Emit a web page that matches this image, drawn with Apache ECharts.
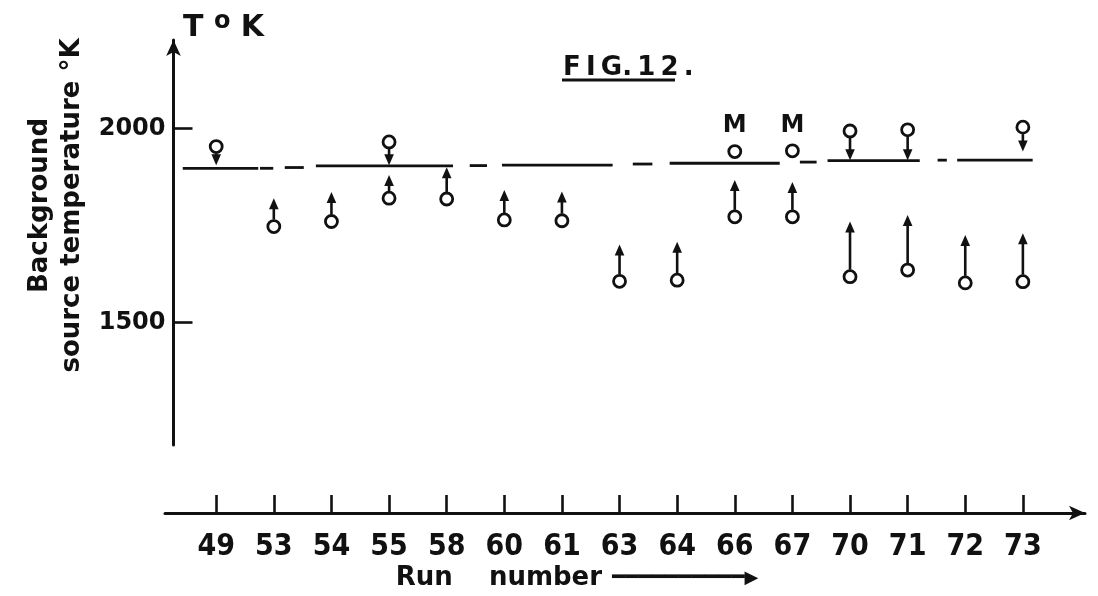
<!DOCTYPE html>
<html>
<head>
<meta charset="utf-8">
<script src="https://cdn.jsdelivr.net/npm/echarts@6/dist/echarts.min.js"></script>
<style>
html,body{margin:0;padding:0;background:#fff;}
#chart{width:1098px;height:596px;}
</style>
</head>
<body>
<div id="chart"></div>
<script>
// ---------------- data ----------------
const categories = ['49','53','54','55','58','60','61','63','64','66','67','70','71','72','73'];
const yTickValues = [1500, 2000];
// upper limits: [run, circle value, arrow tip value]
const upperLimits = [
  ['49', 1953, 1905], ['55', 1965, 1905], ['70', 1993, 1918], ['71', 1996, 1918], ['73', 2003, 1940]
];
// lower limits: [run, circle value, arrow tip value]
const lowerLimits = [
  ['53', 1747, 1820], ['54', 1760, 1836], ['55', 1820, 1880], ['58', 1818, 1900],
  ['60', 1764, 1841], ['61', 1762, 1837], ['63', 1606, 1701], ['64', 1609, 1708],
  ['66', 1772, 1867], ['67', 1772, 1862], ['70', 1618, 1760], ['71', 1635, 1777],
  ['72', 1602, 1725], ['73', 1605, 1730]
];
// measured points marked "M": [run, value]
const mPoints = [['66', 1940], ['67', 1942]];
const mLabel = 'M';
// broken reference line (positions in run-index units)
const refLineStart = [-0.58, 0.76, 1.19, 1.73, 4.40, 4.96, 7.23, 7.87, 10.13, 10.61, 12.52, 12.86];
const refLineEnd   = [ 0.73, 0.99, 1.52, 4.11, 4.70, 6.88, 7.57, 9.78, 10.42, 12.21, 12.68, 14.17];
const refLineValue = [1897, 1897, 1899, 1903, 1904, 1905, 1908, 1910, 1913, 1917, 1918, 1918];

// ---------------- layout ----------------
const X0 = 216.2, XS = 57.62;          // pixel of first run, pixels per run
const Y2000 = 128.3, PXU = 0.3884;     // pixel of 2000 K, pixels per K
const G0 = {left: 173.5, top: 40, right: 1085, bottom: 445};
const G1 = {left: 165, top: 512, right: 1085};
const xmin0 = (G0.left - X0) / XS, xmax0 = (G0.right - X0) / XS;
const xmin1 = (G1.left - X0) / XS, xmax1 = (G1.right - X0) / XS;
const ymin0 = 2000 - (G0.bottom - Y2000) / PXU;
const ymax0 = 2000 + (Y2000 - G0.top) / PXU;

const idx = r => categories.indexOf(r);
const FONT = 'DejaVu Sans';
const NARROW = "'Liberation Sans Narrow', 'DejaVu Sans Condensed', 'DejaVu Sans', sans-serif";
const INK = '#111';

const upData = upperLimits.map(d => [idx(d[0]), d[1], d[2]]);
const lowData = lowerLimits.map(d => [idx(d[0]), d[1], d[2]]);
const mData = mPoints.map(d => [idx(d[0]), d[1]]);
const refData = refLineStart.map((s, i) => [s, refLineEnd[i], refLineValue[i]]);

const R = 7; // circle radius incl. stroke
function arrowItem(params, api) {
  const p0 = api.coord([api.value(0), api.value(1)]);
  const p1 = api.coord([api.value(0), api.value(2)]);
  const dir = p1[1] < p0[1] ? -1 : 1;
  const headL = 11, headW = 4.8;
  return {
    type: 'group',
    children: [
      {type: 'line', shape: {x1: p0[0], y1: p0[1] + dir * R, x2: p1[0], y2: p1[1] - dir * headL * 0.6},
       style: {stroke: INK, lineWidth: 2.6}},
      {type: 'polygon', shape: {points: [[p1[0], p1[1]], [p1[0] - headW, p1[1] - dir * headL], [p1[0] + headW, p1[1] - dir * headL]]},
       style: {fill: INK}}
    ]
  };
}
function refItem(params, api) {
  const a = api.coord([api.value(0), api.value(2)]);
  const b = api.coord([api.value(1), api.value(2)]);
  return {type: 'line', shape: {x1: a[0], y1: a[1], x2: b[0], y2: b[1]}, style: {stroke: INK, lineWidth: 2.8}};
}

const circleStyle = {color: '#fff', borderColor: INK, borderWidth: 2.8, opacity: 1};

const option = {
  backgroundColor: '#fff',
  animation: false,
  title: [
    {text: '{a|T }{o|o}{a| K}', left: 178, top: 5,
     textStyle: {rich: {a: {fontFamily: FONT, fontWeight: 'bold', fontSize: 30, color: INK},
                        o: {fontFamily: FONT, fontWeight: 'bold', fontSize: 24, color: INK, verticalAlign: 'top', padding: [0, 0, 12, 0]}}}},
    {text: 'F\u2009I\u2009G.\u20091\u20092\u2009.', left: 558, top: 50,
     textStyle: {fontFamily: FONT, fontWeight: 'bold', fontSize: 26, color: INK}}
  ],
  graphic: [
    {type: 'rect', shape: {x: 562, y: 78.5, width: 113, height: 3}, style: {fill: INK}}
  ],
  grid: [
    {left: G0.left, top: G0.top, width: G0.right - G0.left, height: G0.bottom - G0.top},
    {left: G1.left, top: G1.top, width: G1.right - G1.left, height: 1}
  ],
  xAxis: [
    {gridIndex: 0, type: 'value', min: xmin0, max: xmax0, show: false},
    {gridIndex: 1, type: 'value', min: xmin1, max: xmax1, position: 'bottom',
     axisLine: {show: true, onZero: false, symbol: ['none', 'arrow'], symbolSize: [11, 16],
                lineStyle: {color: INK, width: 3}},
     axisTick: {show: true, inside: true, length: 18, customValues: categories.map((c, i) => i),
                lineStyle: {color: INK, width: 2.6}},
     axisLabel: {show: true, customValues: categories.map((c, i) => i), margin: 19,
                 formatter: v => categories[Math.round(v)] || '',
                 fontFamily: NARROW, fontWeight: 'bold', fontSize: 30, color: INK},
     splitLine: {show: false},
     name: '{t|Run    number}   {a|━━━━━━━━━━}{h|▶}', nameLocation: 'middle', nameGap: 50,
     nameTextStyle: {padding: [0, 96, 0, 0],
       rich: {t: {fontFamily: FONT, fontWeight: 'bold', fontSize: 26, lineHeight: 30, color: INK},
              a: {fontFamily: FONT, fontWeight: 'normal', fontSize: 22, lineHeight: 30, color: INK},
              h: {fontFamily: FONT, fontWeight: 'normal', fontSize: 18, lineHeight: 30, color: INK}}}}
  ],
  yAxis: [
    {gridIndex: 0, type: 'value', min: ymin0, max: ymax0,
     axisLine: {show: true, onZero: false, symbol: ['none', 'arrow'], symbolSize: [11, 16], lineStyle: {color: INK, width: 3}},
     axisTick: {show: true, inside: true, length: 19, customValues: yTickValues, lineStyle: {color: INK, width: 2.6}},
     axisLabel: {show: true, customValues: yTickValues, margin: 8, formatter: v => String(Math.round(v)),
                 fontFamily: FONT, fontWeight: 'bold', fontSize: 24, color: INK},
     splitLine: {show: false},
     name: 'Background\nsource temperature °K', nameLocation: 'middle', nameRotate: 90, nameGap: 77,
     nameTextStyle: {fontFamily: FONT, fontWeight: 'bold', fontSize: 26, lineHeight: 32, color: INK,
                     padding: [0, 0, 0, 74]}},
    {gridIndex: 1, type: 'value', min: 0, max: 1, show: false}
  ],
  series: [
    {type: 'custom', xAxisIndex: 0, yAxisIndex: 0, data: refData, renderItem: refItem, silent: true, z: 1},
    {type: 'custom', xAxisIndex: 0, yAxisIndex: 0, data: upData, renderItem: arrowItem, silent: true, z: 2},
    {type: 'custom', xAxisIndex: 0, yAxisIndex: 0, data: lowData, renderItem: arrowItem, silent: true, z: 2},
    {type: 'scatter', xAxisIndex: 0, yAxisIndex: 0, data: upData.map(d => [d[0], d[1]]),
     symbol: 'circle', symbolSize: 12, itemStyle: circleStyle, z: 3},
    {type: 'scatter', xAxisIndex: 0, yAxisIndex: 0, data: lowData.map(d => [d[0], d[1]]),
     symbol: 'circle', symbolSize: 12, itemStyle: circleStyle, z: 3},
    {type: 'scatter', xAxisIndex: 0, yAxisIndex: 0, data: mData,
     symbol: 'circle', symbolSize: 12, itemStyle: circleStyle, z: 3,
     label: {show: true, position: 'top', distance: 6, formatter: mLabel,
             fontFamily: FONT, fontWeight: 'bold', fontSize: 24, color: INK}}
  ]
};
const chart = echarts.init(document.getElementById('chart'), null, {renderer: 'canvas'});
chart.setOption(option);
</script>
</body>
</html>
